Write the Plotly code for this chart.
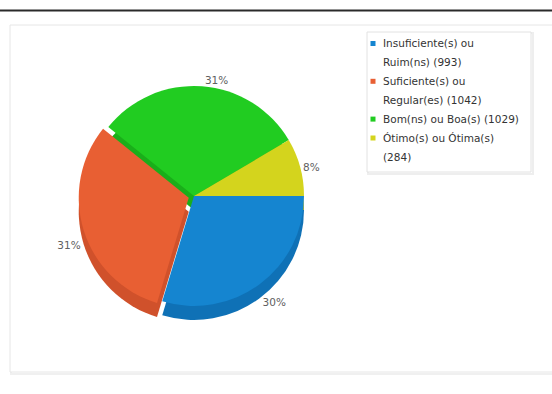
import textwrap
import plotly.graph_objects as go

# ---- data ----
categories = ["Insuficiente(s) ou Ruim(ns)", "Suficiente(s) ou Regular(es)",
              "Bom(ns) ou Boa(s)", "Ótimo(s) ou Ótima(s)"]
values = [993, 1042, 1029, 284]

# ---- styles ----
colors = ["#1585d0", "#e85f33", "#21cc21", "#d4d41d"]
side_colors = ["#0f71b6", "#d0512b", "#1aae1a", "#b5b516"]
pulls = [0, 0.05, 0, 0]
# labels of the lower half are drawn by the pie's side so they sit below it
top_textpos = ["none", "none", "outside", "outside"]
side_textpos = ["outside", "outside", "none", "none"]

W, H = 552, 394
def px(x): return x / W
def py(y): return 1 - y / H

cx, cy, r, depth = 194, 196, 110, 14
half = r * (1 + max(pulls))

def dom(cy_):
    return dict(x=[px(cx - half), px(cx + half)], y=[py(cy_ + half), py(cy_ - half)])

label_font = dict(family="DejaVu Sans", size=10.5, color="#606060")

fig = go.Figure()
# side / depth of the pie
fig.add_trace(go.Pie(
    labels=categories, values=values, sort=False, direction="clockwise", rotation=90,
    pull=pulls, marker=dict(colors=side_colors, line=dict(width=0)),
    texttemplate="%{percent:.0%}", textposition=side_textpos, outsidetextfont=label_font,
    hoverinfo="skip", showlegend=False, domain=dom(cy + depth)))
# top of the pie
fig.add_trace(go.Pie(
    labels=categories, values=values, sort=False, direction="clockwise", rotation=90,
    pull=pulls, marker=dict(colors=colors, line=dict(width=0)),
    texttemplate="%{percent:.0%}", textposition=top_textpos, outsidetextfont=label_font,
    showlegend=False, domain=dom(cy)))

shapes = [
    # top rule
    dict(type="line", xref="paper", yref="paper", x0=0, x1=1, y0=py(10.5), y1=py(10.5),
         line=dict(color="#2a2a2a", width=2.2)),
    # card
    dict(type="rect", xref="paper", yref="paper", x0=px(11), x1=px(565), y0=py(374), y1=py(27),
         line=dict(color="#f0f0f0", width=2), fillcolor="rgba(0,0,0,0)", layer="below"),
    dict(type="rect", xref="paper", yref="paper", x0=px(10), x1=px(565), y0=py(372), y1=py(25),
         line=dict(color="#e6e6e6", width=1), fillcolor="white", layer="below"),
    # legend box
    dict(type="rect", xref="paper", yref="paper", x0=px(368), x1=px(533), y0=py(174), y1=py(33),
         line=dict(color="#eeeeee", width=2), fillcolor="rgba(0,0,0,0)"),
    dict(type="rect", xref="paper", yref="paper", x0=px(367), x1=px(531), y0=py(172), y1=py(32),
         line=dict(color="#e2e2e2", width=1), fillcolor="white"),
]

annotations = []
y0, step = 43.5, 18.9
line_i = 0
for cat, val, col in zip(categories, values, colors):
    lines = textwrap.wrap(f"{cat} ({val})", width=24)
    yc = y0 + step * line_i
    shapes.append(dict(type="rect", xref="paper", yref="paper",
                       x0=px(370.5), x1=px(375.5), y0=py(yc + 2.5), y1=py(yc - 2.5),
                       line=dict(width=0), fillcolor=col))
    for ln in lines:
        annotations.append(dict(text=ln, xref="paper", yref="paper", x=px(381),
                                y=py(y0 + step * line_i), xanchor="left", yanchor="middle",
                                showarrow=False,
                                font=dict(family="DejaVu Sans", size=10.5, color="#333333")))
        line_i += 1

fig.update_layout(
    width=W, height=H, margin=dict(l=0, r=0, t=0, b=0),
    paper_bgcolor="white", plot_bgcolor="white",
    shapes=shapes, annotations=annotations, showlegend=False,
)

fig.write_html("out.html")
